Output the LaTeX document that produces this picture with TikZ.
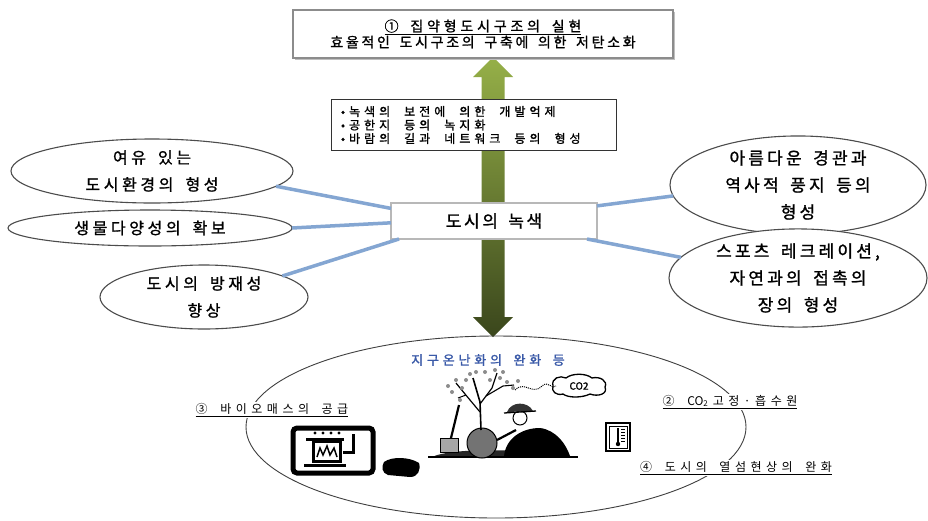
\documentclass[tikz,border=0pt]{standalone}
\usepackage{fontspec}
\setmainfont{Noto Sans CJK KR}[AutoFakeBold=1.2]
\usetikzlibrary{shapes.geometric,calc}

\definecolor{linkblue}{RGB}{132,166,210}
\definecolor{capblue}{RGB}{58,90,168}
\definecolor{olivetop}{RGB}{150,176,72}
\definecolor{olivemid}{RGB}{106,130,50}
\definecolor{olivebot}{RGB}{58,70,28}

% tracked text: \tx{...} puts \trgap between consecutive tokens, \ws is a word space
\makeatletter
\def\trgap{0pt}
\newcommand\ws{\hspace{0.3em}}
\newcommand\wsl{\hspace{0.5em}}
\def\tr@end{\tr@end}
\def\tr@endm{\tr@end}
\newcommand\tx[1]{\tr@a#1\tr@end}
\def\tr@a#1{\def\tr@t{#1}\ifx\tr@t\tr@endm\expandafter\@gobble\else\expandafter\@firstofone\fi
  {{#1}\tr@b}}
\def\tr@b#1{\def\tr@t{#1}\ifx\tr@t\tr@endm\expandafter\@gobble\else\expandafter\@firstofone\fi
  {\hspace{\trgap}{#1}\tr@b}}
\makeatother

\begin{document}
\begin{tikzpicture}[x=1pt,y=-1pt,
  every node/.style={inner sep=0pt, outer sep=0pt},
  oval/.style={ellipse, draw=black!70, line width=1.1pt, fill=white, align=center,
    font=\bfseries\fontsize{16}{27}\selectfont\def\trgap{3.6pt}},
  ovalR/.style={oval, font=\bfseries\fontsize{17}{27}\selectfont\def\trgap{3.2pt}},
  goalbox/.style={rectangle, draw=black!45, line width=2.5pt, fill=white, align=center,
    minimum width=380pt, minimum height=48pt, font=\bfseries\fontsize{14}{16}\selectfont,
    preaction={fill=black!25, transform canvas={shift={(2pt,-2pt)}}}},
  listbox/.style={rectangle, draw=black!80, line width=1.2pt, fill=white, align=left,
    minimum width=285pt, minimum height=51pt, text width=266pt,
    font=\bfseries\fontsize{12}{13.5}\selectfont\def\trgap{4pt}},
  hubbox/.style={rectangle, draw=black!28, line width=2.5pt, fill=white,
    minimum width=206pt, minimum height=36pt,
    font=\bfseries\fontsize{17}{18}\selectfont\def\trgap{2.6pt}},
  link/.style={draw=linkblue, line width=3.5pt},
  tag/.style={fill=white, inner sep=1.5pt, font=\fontsize{12}{13}\selectfont\def\trgap{4.5pt}},
]
\useasboundingbox (0,0) rectangle (928,520);
\fill[white] (0,0) rectangle (928,520);

% ---- central double arrow ----
\coordinate (tipN) at (493,57);
\coordinate (tipS) at (493,337);
\shade[top color=olivetop, middle color=olivemid, bottom color=olivebot]
  (tipN) -- ($(tipN)+(20,20)$) -- ($(tipN)+(11.5,20)$) -- ($(tipS)+(11.5,-20)$)
  -- ($(tipS)+(20,-20)$) -- (tipS) -- ($(tipS)+(-20,-20)$) -- ($(tipS)+(-11.5,-20)$)
  -- ($(tipN)+(-11.5,20)$) -- ($(tipN)+(-20,20)$) -- cycle;

% ---- boxes ----
\node[goalbox] (goal) at (483,34)
  {\def\trgap{3.8pt}\underline{\tx{①\ws 집약형도시구조의\ws 실현}}\\
   \def\trgap{2.7pt}\tx{효율적인\ws 도시구조의\ws 구축에\ws 의한\ws 저탄소화}};
\node[listbox] (measures) at (474,125)
  {•\hspace{4pt}\tx{녹색의\wsl 보전에\wsl 의한\wsl 개발억제}\\
   •\hspace{4pt}\tx{공한지\wsl 등의\wsl 녹지화}\\
   •\hspace{4pt}\tx{바람의\wsl 길과\wsl 네트워크\wsl 등의\wsl 형성}};
\node[hubbox] (hub) at (494,221) {\tx{도시의\ws 녹색}};

% ---- ovals ----
\node[oval, minimum width=282pt, minimum height=64pt] (l1) at (152,171)
  {\tx{여유\ws 있는}\\\tx{도시환경의\ws 형성}};
\node[oval, minimum width=284pt, minimum height=36pt] (l2) at (150,228)
  {\tx{생물다양성의\ws 확보}};
\node[oval, minimum width=208pt, minimum height=64pt] (l3) at (204,297)
  {\tx{도시의\ws 방재성}\\\tx{향상}};
\node[ovalR, minimum width=256pt, minimum height=82pt] (r1) at (798,185)
  {\tx{아름다운\ws 경관과}\\\tx{역사적\ws 풍지\ws 등의}\\\tx{형성}};
\node[ovalR, minimum width=258pt, minimum height=94pt] (r2) at (798,278)
  {\tx{스포츠\ws 레크레이션,}\\\tx{자연과의\ws 접촉의}\\\tx{장의\ws 형성}};

% ---- connectors ----
\draw[link] (l1.-7) -- ($(hub.north west)!0.15!(hub.south west)$);
\draw[link] (l2.east) -- ($(hub.north west)!0.55!(hub.south west)$);
\draw[link] (l3.15) -- ($(hub.south west)+(8,0)$);
\draw[link] ($(hub.north east)!0.08!(hub.south east)$) -- (r1.185);
\draw[link] ($(hub.south east)+(-10,0)$) -- (r2.170);

% ---- lower effects ring ----
\node[ellipse, draw=black!75, line width=0.9pt, minimum width=500pt, minimum height=182pt]
  (ring) at (496,427) {};
\node[font=\bfseries\fontsize{13}{14}\selectfont\def\trgap{3.8pt}, text=capblue] (warm) at (488,360)
  {\tx{지구온난화의\ws 완화\ws 등}};
\node[tag] (bio) at (272,410) {\underline{\tx{③\ws 바이오매스의\ws 공급}}};
\node[tag] (co2) at (730,402) {\underline{\tx{②\ws {CO\textsubscript{2}}고정·흡수원}}};
\node[tag] (heat) at (736,468) {\underline{\tx{④\ws 도시의\ws 열섬현상의\ws 완화}}};

% ---- biomass stove ----
\draw[line width=5pt, rounded corners=4pt] (293,428) rectangle (373,473);
\foreach \dx in {315,323,331,339} \fill (\dx,433) circle (1.6);
\draw[line width=3pt] (306,439) -- (344,439);
\draw[line width=3pt] (313,441) rectangle (340,461);
\draw[line width=1.5pt] (317,457) -- (320,448) -- (323,455) -- (327,446) -- (330,455) -- (334,448) -- (337,457);
\draw[line width=3pt] (304,465) -- (346,465);
\draw[line width=3pt] (343,452) -- (353,452) -- (353,434);
\fill[black] (384,462) .. controls (392,456) and (410,457) .. (419,463)
  .. controls (421,470) and (418,477) .. (410,477) -- (388,475)
  .. controls (382,473) and (381,467) .. (384,462) -- cycle;

% ---- tree planting ----
\fill[black!85] (432,457) .. controls (450,448) and (520,448) .. (575,457) -- cycle;
\draw[line width=1.2pt] (428,457) -- (578,457);
\draw[line width=2.2pt] (459,405) -- (451,438);
\filldraw[fill=black!35, line width=1pt] (440,438) rectangle (458,452);
\filldraw[fill=black!55, line width=1pt] (482,443) circle (15);
\draw[line width=1.6pt] (481,430) -- (480,402) -- (473,378);
\draw[line width=1.2pt] (480,412) -- (465,394) -- (456,383);
\draw[line width=1.2pt] (480,404) -- (492,388) -- (497,373);
\draw[line width=1.1pt] (486,396) -- (503,386) -- (514,385);
\draw[line width=1pt] (466,395) -- (458,398);
\foreach \p in {(456,380),(462,388),(452,392),(470,374),(476,372),(466,380),(495,370),
  (500,378),(490,380),(507,382),(513,388),(518,381),(448,386),(485,372),(503,372),(460,400)}
  \fill[black!45] \p circle (2);
\draw[densely dotted, line width=1pt] (515,390) .. controls (525,380) and (532,396) .. (542,386)
  .. controls (548,380) and (552,390) .. (556,386);
\fill[black] (504,456) .. controls (506,438) and (522,428) .. (540,428)
  .. controls (556,430) and (566,444) .. (570,456) -- cycle;
\filldraw[fill=white, line width=1pt] (520,418) circle (7);
\fill[black!80] (507,412) .. controls (511,401) and (528,401) .. (533,411) -- cycle;
\draw[line width=1.3pt] (504,413) -- (536,411);
\draw[line width=2.2pt] (516,430) -- (497,440);
\draw[line width=1.3pt] (553,386) .. controls (551,378) and (560,375) .. (566,378)
  .. controls (572,373) and (586,373) .. (592,378)
  .. controls (600,376) and (608,381) .. (605,387)
  .. controls (608,394) and (598,397) .. (590,394)
  .. controls (582,398) and (568,398) .. (563,394)
  .. controls (556,396) and (551,391) .. (553,386) -- cycle;
\node[font=\bfseries\fontsize{10}{10}\selectfont] (co2sym) at (579,386) {CO2};

% ---- thermometer ----
\draw[line width=1.6pt] (606,423) rectangle (630,451);
\draw[line width=0.8pt] (609,426) rectangle (627,448);
\draw[line width=1.2pt] (618,428) -- (618,442);
\fill (618,444) circle (2.2);
\foreach \yy in {429,432,435,438,441} \draw[line width=0.6pt] (621,\yy) -- (625,\yy);
\end{tikzpicture}
\end{document}
